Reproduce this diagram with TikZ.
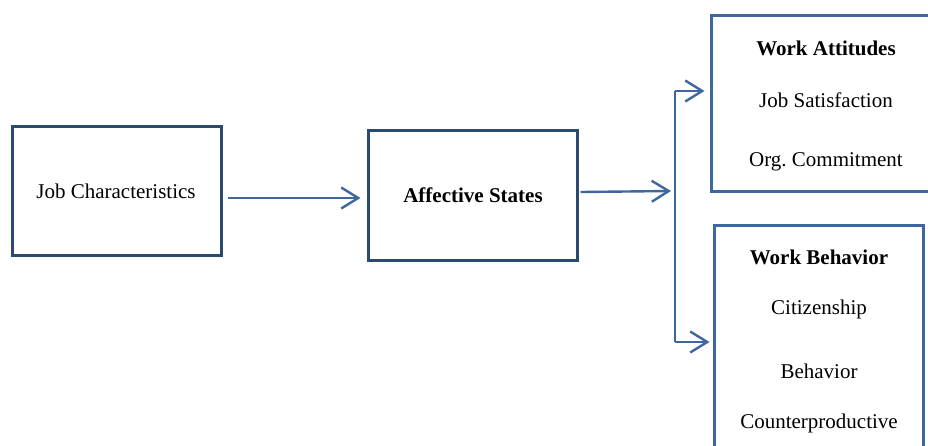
\documentclass[tikz,border=0pt]{standalone}
\usepackage{fontspec}
\setmainfont{Liberation Serif}
\usepackage{tikz}
\usetikzlibrary{arrows.meta, positioning}
\definecolor{navy}{HTML}{2B4A6F}
\definecolor{lineblue}{HTML}{3F679F}
\tikzstyle{arrow} = [lineblue, line width=2.4pt, -{Straight Barb[length=17pt,width=21pt,line width=2.4pt]}]
\tikzstyle{darkbox} = [draw=navy, line width=3pt, inner sep=0pt]
\tikzstyle{bluebox} = [draw=lineblue, line width=3pt, inner sep=0pt]

\begin{document}
\begin{tikzpicture}[x=1pt, y=-1pt, font=\fontsize{21}{25}\selectfont]
  \useasboundingbox (0,0) rectangle (928,445);

  % Draw the left boxes
  \node[darkbox, minimum width=209pt, minimum height=129pt] (jc) at (116.5,190.5) {};
  \node (jctext) at (116,191) {Job Characteristics};
  \node[darkbox, minimum width=209pt, minimum height=130pt] (aff) at (472.5,195) {};
  \node (afftext) at (473,195) {\textbf{Affective States}};

  % Draw the right boxes
  \node[bluebox, minimum width=230pt, minimum height=176pt] (wa) at (826,103) {};
  \node (watitle) at (826,48) {\textbf{Work Attitudes}};
  \node (wasat) at (826,100) {Job Satisfaction};
  \node (wacom) at (826,162) {Org.\ Commitment};

  \node[bluebox, minimum width=209pt, minimum height=240pt] (wb) at (818.5,345) {};
  \node (wbtitle) at (819,257) {\textbf{Work Behavior}};
  \node (wbcit) at (819,309) {Citizenship};
  \node (wbbeh) at (819,371) {Behavior};
  \node (wbcou) at (819,423) {Counterproductive};

  % Draw the arrows
  \draw[arrow] ([xshift=5pt,yshift=-7.5pt]jc.east) -- ([xshift=-6pt,yshift=-3pt]aff.west);
  \coordinate (split) at (675,191);
  \draw[arrow] ([xshift=2pt,yshift=3pt]aff.east) -- ([xshift=-4pt]split);

  % Draw the branch
  \coordinate (bt) at (675,91);
  \coordinate (bb) at (675,342);
  \draw[lineblue, line width=2.4pt] (bt) -- (bb);
  \draw[arrow] (bt) -- ([xshift=-5pt]bt -| wa.west);
  \draw[arrow] (bb) -- ([xshift=-3pt]bb -| wb.west);
\end{tikzpicture}
\end{document}
